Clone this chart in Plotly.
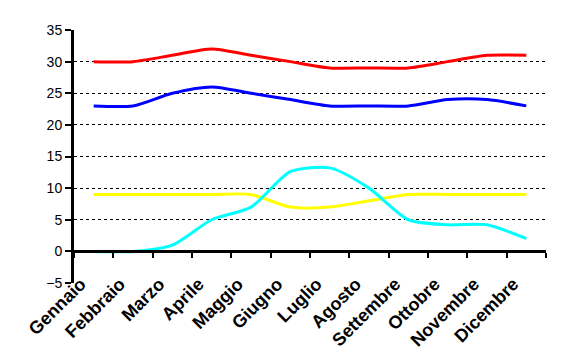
import plotly.graph_objects as go

months = ["Gennaio", "Febbraio", "Marzo", "Aprile", "Maggio", "Giugno",
          "Luglio", "Agosto", "Settembre", "Ottobre", "Novembre", "Dicembre"]
red_vals = [30, 30, 31, 32, 31, 30, 29, 29, 29, 30, 31, 31]
blue_vals = [23, 23, 25, 26, 25, 24, 23, 23, 23, 24, 24, 23]
yellow_vals = [9, 9, 9, 9, 9, 7, 7, 8, 9, 9, 9, 9]
cyan_vals = [0, 0, 1, 5, 7, 12.6, 13.2, 10, 5, 4.2, 4.2, 2]
y_ticks = [-5, 0, 5, 10, 15, 20, 25, 30, 35]

series = [
    (red_vals, "#FF0000"),
    (blue_vals, "#0000FF"),
    (yellow_vals, "#FFFF00"),
    (cyan_vals, "#00FFFF"),
]

fig = go.Figure()
for vals, col in series:
    fig.add_trace(go.Scatter(
        x=months, y=vals, mode="lines",
        line=dict(color=col, width=3, shape="spline", smoothing=0.7),
        showlegend=False, hoverinfo="skip"))

n = len(months)
bounds = [i - 0.5 for i in range(n + 1)]
# helper trace so the zero-crossing category axis is drawn
fig.add_trace(go.Scatter(x=[bounds[0], bounds[-1]], y=[None, None],
                         xaxis="x2", mode="lines", showlegend=False,
                         hoverinfo="skip"))

fig.update_layout(
    width=563, height=362,
    margin=dict(l=74, r=17, t=30, b=77),
    paper_bgcolor="white", plot_bgcolor="white",
    font=dict(family="Liberation Sans, Arial", color="black"),
    xaxis=dict(
        type="category", categoryarray=months, range=[-0.5, n - 0.5],
        showgrid=False, zeroline=False, showline=False, ticks="",
        tickangle=-45,
        tickfont=dict(size=18, weight="bold", family="Liberation Sans, Arial", color="black"),
        ticklabelstandoff=-14, ticklabelshift=-13,
    ),
    xaxis2=dict(
        overlaying="x", anchor="free", position=5 / 40,
        range=[bounds[0], bounds[-1]], tickvals=bounds,
        showticklabels=False, showgrid=False, zeroline=False,
        showline=True, linecolor="black", linewidth=3,
        ticks="outside", ticklen=5, tickwidth=2, tickcolor="black",
    ),
    yaxis=dict(
        range=[y_ticks[0], y_ticks[-1]], tickvals=y_ticks,
        showgrid=True, gridcolor="black", gridwidth=1, griddash="3px,3px",
        zeroline=False, showline=True, linecolor="black", linewidth=3,
        ticks="outside", ticklen=6, tickwidth=2, tickcolor="black",
        tickfont=dict(size=14, family="Liberation Sans, Arial", color="black"),
    ),
)

fig.write_html("out.html")
